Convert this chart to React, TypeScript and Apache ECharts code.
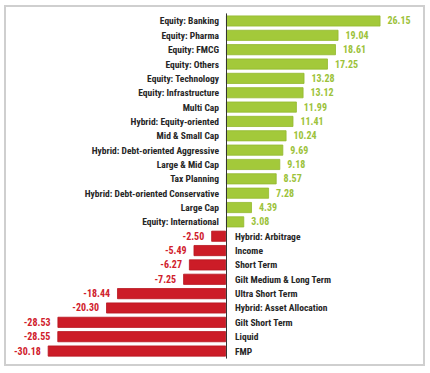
import React, { useEffect, useRef } from "react";
import * as echarts from "echarts";

const categories: string[] = [
  "Equity: Banking",
  "Equity: Pharma",
  "Equity: FMCG",
  "Equity: Others",
  "Equity: Technology",
  "Equity: Infrastructure",
  "Multi Cap",
  "Hybrid: Equity-oriented",
  "Mid & Small Cap",
  "Hybrid: Debt-oriented Aggressive",
  "Large & Mid Cap",
  "Tax Planning",
  "Hybrid: Debt-oriented Conservative",
  "Large Cap",
  "Equity: International",
  "Hybrid: Arbitrage",
  "Income",
  "Short Term",
  "Gilt Medium & Long Term",
  "Ultra Short Term",
  "Hybrid: Asset Allocation",
  "Gilt Short Term",
  "Liquid",
  "FMP",
];

const returns: number[] = [
  26.15, 19.04, 18.61, 17.25, 13.28, 13.12, 11.99, 11.41, 10.24, 9.69, 9.18,
  8.57, 7.28, 4.39, 3.08, -2.5, -5.49, -6.27, -7.25, -18.44, -20.3, -28.53,
  -28.55, -30.18,
];

const GREEN = "#a3c93a";
const GREEN_EDGE = "#93b92e";
const GREEN_TEXT = "#9cc23a";
const RED = "#cc1c27";
const RED_EDGE = "#b8151f";
const RED_TEXT = "#d0202c";
const FONT = "'Roboto Condensed', 'Open Sans Condensed', sans-serif";

export default function App() {
  const ref = useRef<HTMLDivElement>(null);

  useEffect(() => {
    if (!ref.current) return;
    const chart = echarts.init(ref.current, undefined, { renderer: "svg" });

    const valueData = returns.map((v) => ({
      value: v,
      itemStyle: {
        color: v >= 0 ? GREEN : RED,
        borderColor: v >= 0 ? GREEN_EDGE : RED_EDGE,
        borderWidth: 0.8,
      },
      label: {
        show: true,
        position: v >= 0 ? "right" : "left",
        distance: 7,
        color: v >= 0 ? GREEN_TEXT : RED_TEXT,
        fontFamily: FONT,
        fontSize: 10,
        fontWeight: "bold",
        formatter: () => v.toFixed(2),
      },
    }));

    const nameData = returns.map((v, i) => ({
      value: v,
      itemStyle: { color: "rgba(0,0,0,0)" },
      label: {
        show: true,
        position: v >= 0 ? "left" : "right",
        distance: v >= 0 ? 7 : 9,
        color: "#262626",
        fontFamily: FONT,
        fontSize: 9.5,
        fontWeight: "bold",
        formatter: () => categories[i],
      },
    }));

    chart.setOption({
      animation: false,
      backgroundColor: "#ffffff",
      graphic: [
        {
          type: "rect",
          shape: { x: 5, y: 6, width: 419, height: 359 },
          style: { fill: "none", stroke: "#cfcfcf", lineWidth: 2 },
          z: 100,
        },
      ],
      grid: { left: 37, top: 13.8, width: 378, height: 344.4 },
      xAxis: {
        type: "value",
        min: -32,
        max: 32,
        show: false,
        splitLine: { show: false },
      },
      yAxis: {
        type: "category",
        data: categories,
        inverse: true,
        axisLine: { show: true, onZero: true, lineStyle: { color: "#333333", width: 1 } },
        axisTick: { show: false },
        axisLabel: { show: false },
        splitLine: { show: false },
        z: 10,
      },
      series: [
        {
          type: "bar",
          data: valueData,
          barWidth: 11,
          barGap: "-100%",
        },
        {
          type: "bar",
          data: nameData,
          barWidth: 11,
          barGap: "-100%",
          silent: true,
        },
      ],
    });

    return () => chart.dispose();
  }, []);

  return (
    <div
      ref={ref}
      style={{ position: "fixed", left: 0, top: 0, width: 430, height: 373 }}
    />
  );
}
